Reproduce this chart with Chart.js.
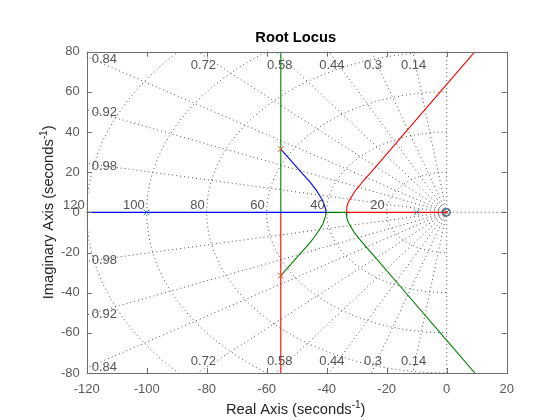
<!DOCTYPE html>
<html><head><meta charset="utf-8">
<script src="https://cdn.jsdelivr.net/npm/chart.js@4"></script>
<style>html,body{margin:0;padding:0;background:#fff}canvas{display:block}</style>
</head><body>
<canvas id="c" width="560" height="420"></canvas>
<script>
// ---- axis ticks ----
const xTicks = [-120,-100,-80,-60,-40,-20,0,20];
const yTicks = [-80,-60,-40,-20,0,20,40,60,80];

// ---- s-plane grid parameters (damping ratios, natural frequencies) ----
const zetaValues = [0.14,0.3,0.44,0.58,0.72,0.84,0.92,0.98];
const zetaEdgeLabels = ['0.14','0.3','0.44','0.58','0.72'];
const zetaSideLabels = ['0.84','0.92','0.98'];
const wnValues = [20,40,60,80,100,120];
const wnLabels = ['20','40','60','80','100','120'];

// ---- root-locus branches ----
const blueRealX = [-125,-40.2];
const blueRealY = [0,0];
const blueUpX = [-55.3,-48.9,-45.6,-43.6,-42.3,-41.3,-40.7,-40.3,-40.2];
const blueUpY = [31.5,20.7,15.2,11.3,8.3,5.8,3.3,1.3,0];
const greenDownX = [-55.3,-48.9,-45.6,-43.6,-42.3,-41.3,-40.7,-40.3,-40.2];
const greenDownY = [-31.5,-20.7,-15.2,-11.3,-8.3,-5.8,-3.3,-1.3,0];
const greenVertX = [-55.3,-55.3];
const greenVertY = [0,82];
const redVertX = [-55.3,-55.3];
const redVertY = [0,-82];
const greenRealX = [-40.2,-33.5];
const greenRealY = [0,0];
const redRealX = [-33.5,0];
const redRealY = [0,0];
const redUpX = [-33.5,-33.3,-32.8,-32.2,-30.6,-29.4,-27.8,-23.3,-15.8,0,9.4];
const redUpY = [0,2.8,5.0,6.6,10.5,12.7,15.6,23.3,36.3,63.7,80];
const greenLowX = [-33.5,-33.3,-32.8,-32.2,-30.6,-29.4,-27.8,-23.3,-15.8,0,9.4];
const greenLowY = [0,-2.8,-5.0,-6.6,-10.5,-12.7,-15.6,-23.3,-36.3,-63.7,-80];

// ---- poles and zeros ----
const bluePoleX = [-100,-10];
const bluePoleY = [0,0];
const orangePoleX = [-55.3,-55.3,0];
const orangePoleY = [31.5,-31.5,0];
const zeroX = [0];
const zeroY = [0];

const XMIN=-120, XMAX=20, YMIN=-80, YMAX=80;

function pts(xs, ys){ return xs.map((x,i)=>({x:x, y:ys[i]})); }

const GRID_COLOR = 'rgba(70,70,70,0.95)';
const datasets = [];

// locus
function locus(xs, ys, color){
  datasets.push({data:pts(xs,ys), showLine:true, borderColor:color, borderWidth:1.1,
    pointRadius:0, fill:false, order:1, tension:0});
}
locus(blueRealX, blueRealY, '#0000ff');
locus(blueUpX, blueUpY, '#0000ff');
locus(greenDownX, greenDownY, '#008000');
locus(greenVertX, greenVertY, '#008000');
locus(redVertX, redVertY, '#ff0000');
locus(greenRealX, greenRealY, '#008000');
locus(redRealX, redRealY, '#ff0000');
locus(redUpX, redUpY, '#ff0000');
locus(greenLowX, greenLowY, '#008000');

// markers
datasets.push({data:pts(bluePoleX,bluePoleY), showLine:false, pointStyle:'crossRot', pointRadius:4,
  borderColor:'#2b7fd0', borderWidth:1, order:0});
datasets.push({data:pts(zeroX,zeroY), showLine:false, pointStyle:'circle', pointRadius:3.6,
  borderColor:'#3d6e9c', backgroundColor:'rgba(0,0,0,0)', borderWidth:1.3, order:0});
datasets.push({data:pts(orangePoleX,orangePoleY), showLine:false, pointStyle:'crossRot', pointRadius:4,
  borderColor:'#d95319', borderWidth:1, order:0});

// s-grid: damping-ratio rays
zetaValues.forEach(z=>{
  const s = Math.sqrt(1-z*z), R = 300;
  [1,-1].forEach(sg=>{
    datasets.push({data:[{x:0,y:0},{x:-R*z,y:sg*R*s}], showLine:true, borderColor:GRID_COLOR,
      borderWidth:1, borderDash:[1,3], pointRadius:0, order:2});
  });
});
// zeta = 0 and real axis
datasets.push({data:[{x:0,y:-100},{x:0,y:100}], showLine:true, borderColor:GRID_COLOR,
  borderWidth:1, borderDash:[1,3], pointRadius:0, order:2});
datasets.push({data:[{x:-130,y:0},{x:30,y:0}], showLine:true, borderColor:GRID_COLOR,
  borderWidth:1, borderDash:[1,3], pointRadius:0, order:2});
// natural-frequency semicircles
wnValues.forEach(w=>{
  const d = [];
  for(let a=90; a<=270; a+=2){
    const r = a*Math.PI/180;
    d.push({x:w*Math.cos(r), y:w*Math.sin(r)});
  }
  datasets.push({data:d, showLine:true, borderColor:GRID_COLOR, borderWidth:1,
    borderDash:[1,3], pointRadius:0, order:2, tension:0});
});

const FONT = '"Liberation Sans", Arial, Helvetica, sans-serif';

const decor = {
  id:'decor',
  afterDraw(chart){
    const ctx = chart.ctx, a = chart.chartArea;
    const xs = chart.scales.x, ys = chart.scales.y;
    ctx.save();
    // box
    ctx.strokeStyle = '#6e6e6e'; ctx.lineWidth = 1;
    ctx.strokeRect(Math.round(a.left)+0.5, Math.round(a.top)+0.5,
      Math.round(a.right)-Math.round(a.left), Math.round(a.bottom)-Math.round(a.top));
    // inward ticks
    const TL = 5;
    ctx.beginPath();
    xTicks.forEach(v=>{
      const px = Math.round(xs.getPixelForValue(v))+0.5;
      ctx.moveTo(px, a.bottom); ctx.lineTo(px, a.bottom-TL);
      ctx.moveTo(px, a.top); ctx.lineTo(px, a.top+TL);
    });
    yTicks.forEach(v=>{
      const py = Math.round(ys.getPixelForValue(v))+0.5;
      ctx.moveTo(a.left, py); ctx.lineTo(a.left+TL, py);
      ctx.moveTo(a.right, py); ctx.lineTo(a.right-TL, py);
    });
    ctx.stroke();

    // grid labels
    ctx.fillStyle = '#555555';
    ctx.font = '13px ' + FONT;
    const ppx = (xs.getPixelForValue(1)-xs.getPixelForValue(0));
    const ppy = (ys.getPixelForValue(0)-ys.getPixelForValue(1));
    // zeta labels along top and bottom edges
    zetaEdgeLabels.forEach(t=>{
      const z = parseFloat(t), s = Math.sqrt(1-z*z);
      const slope = (s*ppy)/(z*ppx); // pixel slope
      const xTop = xs.getPixelForValue(-YMAX*z/s) + 3.7/slope;
      ctx.textAlign='center'; ctx.textBaseline='middle';
      ctx.fillText(t, xTop, a.top+13.5);
      ctx.fillText(t, xTop, a.bottom-11.5);
    });
    // zeta labels along left edge
    zetaSideLabels.forEach(t=>{
      const z = parseFloat(t), s = Math.sqrt(1-z*z);
      const yv = -XMIN*s/z;
      ctx.textAlign='left'; ctx.textBaseline='middle';
      ctx.fillText(t, a.left+5, ys.getPixelForValue(yv)+3);
      ctx.fillText(t, a.left+5, ys.getPixelForValue(-yv)-0.5);
    });
    // natural frequency labels
    wnLabels.forEach(t=>{
      const w = parseFloat(t);
      ctx.textAlign='right'; ctx.textBaseline='alphabetic';
      ctx.fillText(t, xs.getPixelForValue(-w)-2, ys.getPixelForValue(0)-3);
    });

    // title
    const cx = (a.left+a.right)/2;
    ctx.fillStyle = '#000000';
    ctx.font = 'bold 14.7px ' + FONT;
    ctx.textAlign='center'; ctx.textBaseline='alphabetic';
    ctx.fillText('Root Locus', cx-1, 41.5);

    // axis titles with superscript
    function supTitle(main, sup, close, x, y){
      ctx.font = '14.7px ' + FONT;
      const w1 = ctx.measureText(main).width;
      const w3 = ctx.measureText(close).width;
      ctx.font = '10px ' + FONT;
      const w2 = ctx.measureText(sup).width;
      const tot = w1+w2+w3;
      let x0 = x - tot/2;
      ctx.textAlign='left'; ctx.textBaseline='alphabetic';
      ctx.font = '14.7px ' + FONT; ctx.fillText(main, x0, y);
      ctx.font = '10px ' + FONT; ctx.fillText(sup, x0+w1, y-6);
      ctx.font = '14.7px ' + FONT; ctx.fillText(close, x0+w1+w2, y);
    }
    ctx.fillStyle = '#262626';
    supTitle('Real Axis (seconds', '-1', ')', cx-1, 414);
    ctx.save();
    ctx.translate(53, (a.top+a.bottom)/2);
    ctx.rotate(-Math.PI/2);
    supTitle('Imaginary Axis (seconds', '-1', ')', 0, 0);
    ctx.restore();
    ctx.restore();
  }
};

new Chart(document.getElementById('c'), {
  type:'scatter',
  data:{datasets:datasets},
  options:{
    responsive:false, animation:false, devicePixelRatio:1,
    layout:{padding:{left:0, right:53.3, top:51.7, bottom:0}},
    plugins:{legend:{display:false}, tooltip:{enabled:false}, title:{display:false}},
    scales:{
      x:{type:'linear', min:XMIN, max:XMAX,
        afterBuildTicks:(s)=>{ s.ticks = xTicks.map(v=>({value:v})); },
        afterFit:(s)=>{ s.height = 47; },
        grid:{display:false, drawTicks:false}, border:{display:false},
        ticks:{color:'#5a5a5a', font:{family:FONT, size:13}, padding:9, maxRotation:0, autoSkip:false}},
      y:{type:'linear', min:YMIN, max:YMAX,
        afterBuildTicks:(s)=>{ s.ticks = yTicks.map(v=>({value:v})); },
        afterFit:(s)=>{ s.width = 86.7; },
        grid:{display:false, drawTicks:false}, border:{display:false},
        ticks:{color:'#5a5a5a', font:{family:FONT, size:13}, padding:7, autoSkip:false}}
    }
  },
  plugins:[decor]
});
</script>
</body></html>
